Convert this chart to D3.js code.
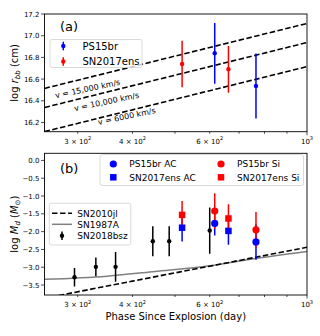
<!DOCTYPE html>
<html><head><meta charset="utf-8">
<script src="https://cdn.jsdelivr.net/npm/d3@7"></script>
<style>body{margin:0;background:#fff}svg{display:block}text{font-family:"DejaVu Sans",sans-serif}</style>
</head><body><svg id="c" width="320" height="336"></svg>
<script>
// ---- data ----
const phasesPS15br = [616, 765];
const logRPS15br = [16.838, 16.536];
const errRPS15br = [0.28, 0.30];
const phases2017ens = [519, 662];
const logR2017ens = [16.739, 16.690];
const errR2017ens = [0.215, 0.215];
const velocityLabels = ["v = 15,000 km/s", "v = 10,000 km/s", "v = 6000 km/s"];
const velocityPhases = [252, 1000];
const velocityLogR = [[16.514, 17.113], [16.338, 16.937], [16.116, 16.715]];

const mdPS15brAC = [-1.77, -2.29];
const errPS15brAC = [0.34, 0.50];
const mdPS15brSi = [-1.42, -1.95];
const errPS15brSi = [0.50, 0.50];
const md2017ensAC = [-1.89, -1.98];
const err2017ensAC = [0.39, 0.39];
const md2017ensSi = [-1.53, -1.63];
const err2017ensSi = [0.39, 0.40];
const phases2018bsz = [295, 330, 366, 445, 485, 600];
const md2018bsz = [-3.28, -2.99, -2.99, -2.27, -2.27, -1.97];
const err2018bsz = [0.26, 0.26, 0.42, 0.42, 0.42, 0.65];
const phases2010jl = [250, 400, 600, 1000];
const md2010jl = [-3.88, -3.39, -2.97, -2.44];
const phases1987A = [252, 350, 450, 600, 750, 1000];
const md1987A = [-3.34, -3.25, -3.12, -2.96, -2.77, -2.56];

const xTicksLabeled = [300, 400, 600, 1000];
const xTicksMinor = [500, 700, 800, 900];
const yTicksTop = [16.2, 16.4, 16.6, 16.8, 17.0, 17.2];
const yTicksBot = [-3.5, -3.0, -2.5, -2.0, -1.5, -1.0, -0.5, 0.0];

// ---- layout ----
const svg = d3.select("#c");
const L = 44.5, R = 307;
const topP = {t: 14, b: 131.7}, botP = {t: 153.3, b: 295};
const x = d3.scaleLog().domain([252, 1000]).range([L, R]);
const yA = d3.scaleLinear().domain([16.115, 17.2]).range([topP.b, topP.t]);
const yB = d3.scaleLinear().domain([-3.78, 0.2]).range([botP.b, botP.t]);
const BLUE = "#0000ff", RED = "#ff0000";

const defs = svg.append("defs");
[["clipA", topP], ["clipB", botP]].forEach(([id, p]) => {
  defs.append("clipPath").attr("id", id).append("rect")
    .attr("x", L).attr("y", p.t).attr("width", R - L).attr("height", p.b - p.t);
});

function xTickLabel(sel, v) {
  if (v === 1000) {
    sel.text("10");
    sel.append("tspan").attr("dy", -3.5).attr("font-size", 5).text("3");
  } else {
    sel.text((v / 100) + " \u00d7 10");
    sel.append("tspan").attr("dy", -3.5).attr("font-size", 5).text("2");
  }
}

function drawAxes(g, y, p, yTicks, fmt) {
  // x ticks
  const xAll = xTicksLabeled.concat(xTicksMinor);
  xAll.forEach(v => {
    g.append("line").attr("x1", x(v)).attr("x2", x(v)).attr("y1", p.b).attr("y2", p.b + (v === 1000 ? 3.5 : 2))
      .attr("stroke", "#000").attr("stroke-width", 0.7);
  });
  xTicksLabeled.forEach(v => {
    const t = g.append("text").attr("x", x(v)).attr("y", p.b + 12).attr("text-anchor", "middle")
      .attr("font-size", 7).attr("fill", "#000");
    xTickLabel(t, v);
  });
  yTicks.forEach(v => {
    g.append("line").attr("x1", L - 3.5).attr("x2", L).attr("y1", y(v)).attr("y2", y(v))
      .attr("stroke", "#000").attr("stroke-width", 0.7);
    g.append("text").attr("x", L - 5).attr("y", y(v) + 2.5).attr("text-anchor", "end")
      .attr("font-size", 7).attr("fill", "#000").text(fmt(v));
  });
  g.append("rect").attr("x", L).attr("y", p.t).attr("width", R - L).attr("height", p.b - p.t)
    .attr("fill", "none").attr("stroke", "#000").attr("stroke-width", 0.9);
}

function errbars(g, y, xs, ys, es, color, w) {
  xs.forEach((p, i) => {
    g.append("line").attr("x1", x(p)).attr("x2", x(p))
      .attr("y1", y(ys[i] - es[i])).attr("y2", y(ys[i] + es[i]))
      .attr("stroke", color).attr("stroke-width", w);
  });
}
function circles(g, y, xs, ys, color, r) {
  xs.forEach((p, i) => g.append("circle").attr("cx", x(p)).attr("cy", y(ys[i])).attr("r", r).attr("fill", color));
}
function squares(g, y, xs, ys, color, s) {
  xs.forEach((p, i) => g.append("rect").attr("x", x(p) - s / 2).attr("y", y(ys[i]) - s / 2)
    .attr("width", s).attr("height", s).attr("fill", color));
}
const fmtMinus = v => d3.format(".1f")(v).replace("-", "\u2212");

// ---- panel (a) ----
const gA = svg.append("g");
const gAc = gA.append("g").attr("clip-path", "url(#clipA)");
const lineA = d3.line().x(d => x(d[0])).y(d => yA(d[1]));
velocityLogR.forEach(vals => {
  gAc.append("path").attr("d", lineA(velocityPhases.map((p, i) => [p, vals[i]])))
    .attr("fill", "none").attr("stroke", "#000").attr("stroke-width", 1.6).attr("stroke-dasharray", "5.5,2.5");
});
// velocity labels
const labelPhase = [316, 349, 388];
const labelOffset = [11, 9.5, 5];
const angle = -Math.atan((yA(velocityLogR[0][0]) - yA(velocityLogR[0][1])) / (x(1000) - x(252))) * 180 / Math.PI;
velocityLabels.forEach((t, i) => {
  const f = (Math.log10(labelPhase[i]) - Math.log10(velocityPhases[0])) / (Math.log10(velocityPhases[1]) - Math.log10(velocityPhases[0]));
  const v = velocityLogR[i][0] + f * (velocityLogR[i][1] - velocityLogR[i][0]);
  const px = x(labelPhase[i]), py = yA(v) + labelOffset[i];
  gAc.append("text").attr("transform", `translate(${px},${py}) rotate(${angle + 2})`)
    .attr("text-anchor", "middle").attr("dy", "0.35em").attr("font-size", 8).attr("fill", "#000").text(t);
});
errbars(gAc, yA, phasesPS15br, logRPS15br, errRPS15br, BLUE, 1.5);
errbars(gAc, yA, phases2017ens, logR2017ens, errR2017ens, RED, 1.5);
circles(gAc, yA, phasesPS15br, logRPS15br, BLUE, 2.2);
circles(gAc, yA, phases2017ens, logR2017ens, RED, 2.2);
drawAxes(gA, yA, topP, yTicksTop, d => d3.format(".1f")(d));
gA.append("text").attr("x", 60).attr("y", 31).attr("font-size", 13).text("(a)");
// legend a
const lgA = gA.append("g");
lgA.append("rect").attr("x", 50).attr("y", 39.5).attr("width", 92).attr("height", 28).attr("rx", 2)
  .attr("fill", "#fff").attr("fill-opacity", 0.8).attr("stroke", "#d0d0d0").attr("stroke-width", 0.8);
[["PS15br", BLUE, 46], ["SN2017ens", RED, 61.5]].forEach(([t, c, yy]) => {
  lgA.append("line").attr("x1", 63.3).attr("x2", 63.3).attr("y1", yy - 4.3).attr("y2", yy + 4.3).attr("stroke", c).attr("stroke-width", 1.5);
  lgA.append("circle").attr("cx", 63.3).attr("cy", yy).attr("r", 2.2).attr("fill", c);
  lgA.append("text").attr("x", 82.5).attr("y", yy + 3.5).attr("font-size", 10).text(t);
});
// y label a
const ylA = gA.append("text").attr("transform", `translate(18,${(topP.t + topP.b) / 2}) rotate(-90)`)
  .attr("text-anchor", "middle").attr("font-size", 10);
ylA.append("tspan").text("log ");
ylA.append("tspan").attr("font-style", "italic").text("r");
ylA.append("tspan").attr("font-style", "italic").attr("font-size", 7).attr("dy", 2).text("bb");
ylA.append("tspan").attr("dy", -2).text(" (cm)");

// ---- panel (b) ----
const gB = svg.append("g");
const gBc = gB.append("g").attr("clip-path", "url(#clipB)");
const lineB = d3.line().x(d => x(d[0])).y(d => yB(d[1])).curve(d3.curveMonotoneX);
gBc.append("path").attr("d", lineB(phases1987A.map((p, i) => [p, md1987A[i]])))
  .attr("fill", "none").attr("stroke", "#808080").attr("stroke-width", 1.5);
gBc.append("path").attr("d", lineB(phases2010jl.map((p, i) => [p, md2010jl[i]])))
  .attr("fill", "none").attr("stroke", "#000").attr("stroke-width", 1.6).attr("stroke-dasharray", "5.5,2.5");
// bars first
errbars(gBc, yB, phases2018bsz, md2018bsz, err2018bsz, "#000", 1.5);
errbars(gBc, yB, phasesPS15br, mdPS15brAC, errPS15brAC, BLUE, 1.5);
errbars(gBc, yB, phases2017ens, md2017ensAC, err2017ensAC, BLUE, 1.5);
errbars(gBc, yB, phasesPS15br, mdPS15brSi, errPS15brSi, RED, 1.5);
errbars(gBc, yB, phases2017ens, md2017ensSi, err2017ensSi, RED, 1.5);
circles(gBc, yB, phases2018bsz, md2018bsz, "#000", 2.2);
circles(gBc, yB, phasesPS15br, mdPS15brAC, BLUE, 3.6);
squares(gBc, yB, phases2017ens, md2017ensAC, BLUE, 6.5);
circles(gBc, yB, phasesPS15br, mdPS15brSi, RED, 3.6);
squares(gBc, yB, phases2017ens, md2017ensSi, RED, 6.5);
drawAxes(gB, yB, botP, yTicksBot, fmtMinus);
gB.append("text").attr("x", 60).attr("y", 173).attr("font-size", 13).text("(b)");
// legend b1
const lgB = gB.append("g");
lgB.append("rect").attr("x", 100).attr("y", 154.5).attr("width", 203.5).attr("height", 31).attr("rx", 2)
  .attr("fill", "#fff").attr("fill-opacity", 0.8).attr("stroke", "#d0d0d0").attr("stroke-width", 0.8);
[["PS15br AC", BLUE, "c", 113.3, 164], ["SN2017ens AC", BLUE, "s", 113.3, 177.3],
 ["PS15br Si", RED, "c", 221, 164], ["SN2017ens Si", RED, "s", 221, 177.3]].forEach(([t, c, m, xx, yy]) => {
  if (m === "c") lgB.append("circle").attr("cx", xx).attr("cy", yy).attr("r", 3.6).attr("fill", c);
  else lgB.append("rect").attr("x", xx - 3.25).attr("y", yy - 3.25).attr("width", 6.5).attr("height", 6.5).attr("fill", c);
  lgB.append("text").attr("x", xx + 16).attr("y", yy + 3.2).attr("font-size", 9).text(t);
});
// legend b2
const lgC = gB.append("g");
lgC.append("rect").attr("x", 49.3).attr("y", 203.3).attr("width", 81.5).attr("height", 41.7).attr("rx", 2)
  .attr("fill", "#fff").attr("fill-opacity", 0.8).attr("stroke", "#d0d0d0").attr("stroke-width", 0.8);
lgC.append("line").attr("x1", 52).attr("x2", 72).attr("y1", 213.3).attr("y2", 213.3)
  .attr("stroke", "#000").attr("stroke-width", 1.6).attr("stroke-dasharray", "5.5,2.5");
lgC.append("line").attr("x1", 52).attr("x2", 72).attr("y1", 224.3).attr("y2", 224.3)
  .attr("stroke", "#808080").attr("stroke-width", 1.5);
lgC.append("line").attr("x1", 62).attr("x2", 62).attr("y1", 231.5).attr("y2", 240)
  .attr("stroke", "#000").attr("stroke-width", 1.5);
lgC.append("circle").attr("cx", 62).attr("cy", 235.7).attr("r", 2.2).attr("fill", "#000");
[["SN2010jl", 213.3], ["SN1987A", 224.3], ["SN2018bsz", 235.7]].forEach(([t, yy]) => {
  lgC.append("text").attr("x", 77.3).attr("y", yy + 3.2).attr("font-size", 9).text(t);
});
// y label b
const ylB = gB.append("text").attr("transform", `translate(18,${(botP.t + botP.b) / 2}) rotate(-90)`)
  .attr("text-anchor", "middle").attr("font-size", 10);
ylB.append("tspan").text("log ");
ylB.append("tspan").attr("font-style", "italic").text("M");
ylB.append("tspan").attr("font-style", "italic").attr("font-size", 7).attr("dy", 2).text("d");
ylB.append("tspan").attr("dy", -2).text(" (");
ylB.append("tspan").attr("font-style", "italic").text("M");
ylB.append("tspan").attr("font-size", 7).attr("dy", 2).text("\u2299");
ylB.append("tspan").attr("dy", -2).text(")");
// x label
svg.append("text").attr("x", (L + R) / 2).attr("y", 320).attr("text-anchor", "middle")
  .attr("font-size", 10).text("Phase Since Explosion (day)");
</script></body></html>
